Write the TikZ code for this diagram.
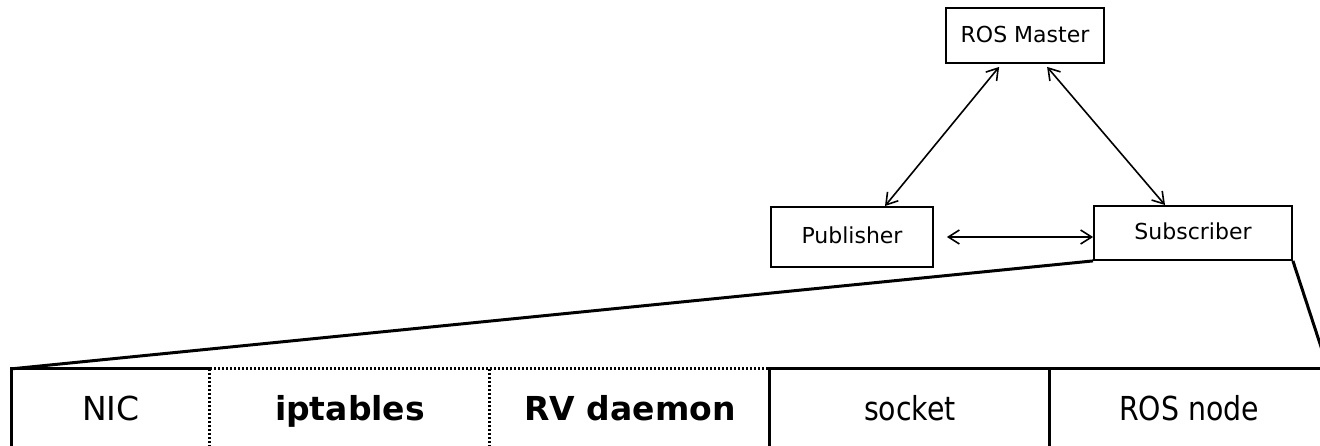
\documentclass[tikz,border=0pt]{standalone}
\usepackage{fontspec}
\setmainfont{DejaVu Sans}
\newfontfamily\condfont[FakeStretch=0.86]{DejaVu Sans}
\usetikzlibrary{arrows.meta}
\begin{document}
\begin{tikzpicture}[x=1pt,y=-1pt,
  rosbox/.style={draw, line width=1.8pt, inner sep=0pt, text height=16pt, text depth=3pt,
    font=\fontsize{22}{26}\selectfont},
  layer/.style={inner sep=0pt, minimum height=78pt, text height=30pt, text depth=6pt,
    font=\fontsize{33}{38}\selectfont},
  link/.style={line width=1.6pt, {Straight Barb[length=11pt,width=14pt]}-{Straight Barb[length=11pt,width=14pt]}},
  edge/.style={line width=3pt},
  dots/.style={line width=3pt, dash pattern=on 1.8pt off 2.2pt}]
\useasboundingbox (0,0) rectangle (1320,445);

% ROS graph
\node[rosbox, minimum width=158pt, minimum height=55pt] (master) at (1025,35.5) {ROS Master};
\node[rosbox, minimum width=162pt, minimum height=60pt] (pub) at (852,237) {Publisher};
\node[rosbox, minimum width=198pt, minimum height=54pt] (sub) at (1193,233) {Subscriber};

\draw[link] (master.south west) ++(54,3) coordinate (m1) -- (885,206) coordinate (p1);
\draw[link] (master.south west) ++(102,3) coordinate (m2) -- (1165,205) coordinate (s1);
\draw[link] (pub.east) ++(13,0) coordinate (p2) -- (sub.west |- p2);

% stack of the subscriber
\node[layer, minimum width=198pt] (nic) at (111,408) {NIC};
\node[layer, minimum width=280pt] (ipt) at (350,408) {\bfseries iptables};
\node[layer, minimum width=280pt] (rv) at (630,408) {\bfseries RV daemon};
\node[layer, minimum width=280pt] (sock) at (910,408) {\condfont socket};
\node[layer, minimum width=278pt] (rosn) at (1189,408) {\condfont ROS node};

\draw[edge] (nic.south west) -- (nic.north west) -- (nic.north east);
\draw[dots] (ipt.north west) -- (rv.north east);
\draw[dots] (ipt.north west) -- (ipt.south west);
\draw[dots] (rv.north west) -- (rv.south west);
\draw[edge] (sock.south west) -- (sock.north west) -- (rosn.north east);
\draw[edge] (rosn.north west) -- (rosn.south west);

% zoom lines
\draw[edge] (sub.south west) -- (nic.north west);
\draw[edge] (sub.south east) -- (rosn.north east);
\end{tikzpicture}
\end{document}
